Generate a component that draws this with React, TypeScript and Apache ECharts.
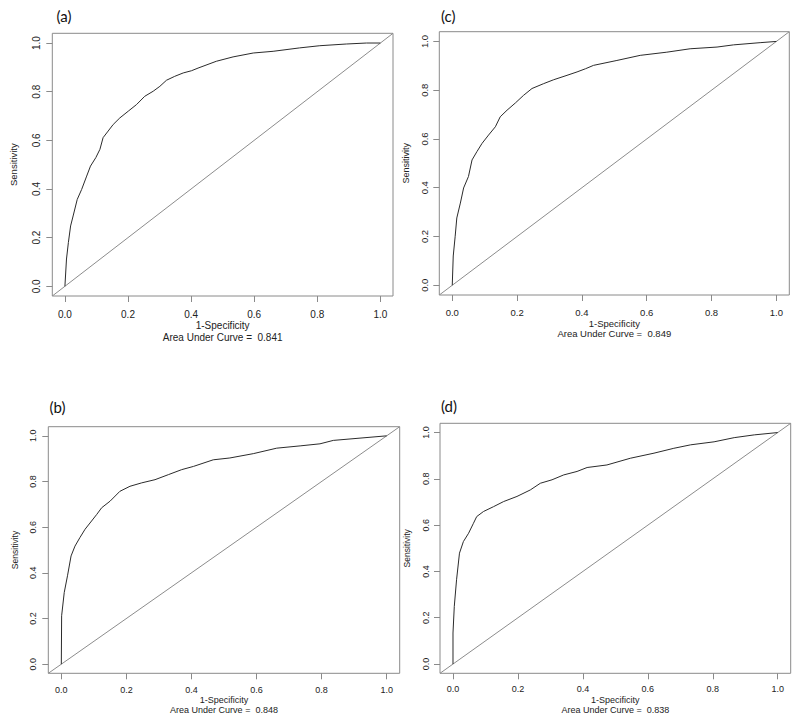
import React, { useEffect, useRef } from "react";
import * as echarts from "echarts";

// ---- data ----
const tickValues = [0, 0.2, 0.4, 0.6, 0.8, 1.0];
const axisMin = -0.04;
const axisMax = 1.04;

const panelLabels = ["(a)", "(c)", "(b)", "(d)"];
const aucValues = ["0.841", "0.849", "0.848", "0.838"];
const xAxisTitle = "1-Specificity";
const yAxisTitle = "Sensitivity";

// (a)
const fprA = [0, 0.005, 0.011, 0.018, 0.026, 0.039, 0.053, 0.069, 0.081, 0.098, 0.111, 0.121, 0.137, 0.153, 0.174, 0.201, 0.227, 0.253, 0.28, 0.301, 0.322, 0.348, 0.375, 0.401, 0.422, 0.48, 0.533, 0.597, 0.66, 0.744, 0.808, 0.892, 0.956, 1];
const tprA = [0, 0.112, 0.18, 0.248, 0.289, 0.357, 0.398, 0.453, 0.494, 0.529, 0.563, 0.611, 0.638, 0.665, 0.692, 0.72, 0.747, 0.781, 0.802, 0.822, 0.847, 0.863, 0.877, 0.886, 0.897, 0.925, 0.943, 0.959, 0.966, 0.98, 0.989, 0.996, 1.0, 1];
// (c)
const fprC = [0, 0.003, 0.009, 0.014, 0.025, 0.035, 0.05, 0.061, 0.076, 0.092, 0.112, 0.133, 0.148, 0.169, 0.195, 0.22, 0.246, 0.282, 0.313, 0.354, 0.385, 0.411, 0.436, 0.508, 0.58, 0.662, 0.734, 0.817, 0.868, 0.95, 1];
const tprC = [0, 0.12, 0.201, 0.276, 0.337, 0.399, 0.446, 0.514, 0.548, 0.582, 0.616, 0.65, 0.691, 0.718, 0.748, 0.779, 0.807, 0.827, 0.843, 0.861, 0.875, 0.888, 0.902, 0.922, 0.943, 0.956, 0.97, 0.977, 0.986, 0.995, 1];
// (b)
const fprB = [0, 0.001, 0.009, 0.019, 0.03, 0.042, 0.057, 0.073, 0.093, 0.109, 0.124, 0.15, 0.18, 0.211, 0.247, 0.288, 0.329, 0.37, 0.406, 0.467, 0.518, 0.59, 0.662, 0.734, 0.795, 0.836, 0.918, 1];
const tprB = [0, 0.212, 0.314, 0.387, 0.474, 0.517, 0.554, 0.591, 0.627, 0.656, 0.685, 0.714, 0.757, 0.779, 0.794, 0.808, 0.83, 0.852, 0.866, 0.895, 0.903, 0.922, 0.946, 0.956, 0.965, 0.98, 0.99, 1];
// (d)
const fprD = [0, 0.0, 0.004, 0.011, 0.02, 0.032, 0.048, 0.063, 0.073, 0.094, 0.125, 0.156, 0.197, 0.238, 0.269, 0.305, 0.341, 0.382, 0.413, 0.474, 0.546, 0.619, 0.68, 0.732, 0.804, 0.866, 0.928, 1];
const tprD = [0, 0.134, 0.249, 0.364, 0.479, 0.529, 0.565, 0.608, 0.637, 0.659, 0.68, 0.702, 0.724, 0.752, 0.781, 0.796, 0.817, 0.832, 0.849, 0.86, 0.889, 0.911, 0.932, 0.947, 0.96, 0.978, 0.99, 1];

const fprList = [fprA, fprC, fprB, fprD];
const tprList = [tprA, tprC, tprB, tprD];

// ---- layout (pixels) ----
const layouts = [
  { left: 52.3, top: 33.3, width: 340.7, height: 262.7, lx: 64, ly: 16, tick: 10, name: 10, ynGap: 34, ylMargin: 11, xlMargin: 13, xnGap: 23.5, xnLH: 11.5 },
  { left: 439.3, top: 31.7, width: 350, height: 263.3, lx: 448.3, ly: 15.5, tick: 9.5, name: 9.5, ynGap: 28.5, ylMargin: 10, xlMargin: 12.5, xnGap: 23, xnLH: 10 },
  { left: 48.3, top: 426.7, width: 351.4, height: 246.6, lx: 57.5, ly: 406.7, tick: 9, name: 9, ynGap: 29, ylMargin: 10.5, xlMargin: 12, xnGap: 22.3, xnLH: 9.7 },
  { left: 440, top: 423.3, width: 350.7, height: 250, lx: 449, ly: 405.5, tick: 9, name: 9, ynGap: 29, ylMargin: 10, xlMargin: 11.5, xnGap: 22.3, xnLH: 9.7 },
];

const FONT = "'Liberation Sans', Arial, sans-serif";
const TEXT_COLOR = "#222";
const FRAME_COLOR = "#8a8a8a";

export default function App() {
  const ref = useRef<HTMLDivElement>(null);

  useEffect(() => {
    if (!ref.current) return;
    const chart = echarts.init(ref.current, undefined, { renderer: "svg" });

    const grid = layouts.map((l) => ({
      left: l.left,
      top: l.top,
      width: l.width,
      height: l.height,
      show: true,
      borderColor: FRAME_COLOR,
      borderWidth: 1,
      backgroundColor: "transparent",
      containLabel: false,
    }));

    const xAxis = layouts.map((l, i) => ({
      type: "value",
      gridIndex: i,
      min: axisMin,
      max: axisMax,
      axisLine: { show: false, onZero: false },
      splitLine: { show: false },
      axisTick: { show: true, length: 6, customValues: tickValues, lineStyle: { color: FRAME_COLOR, width: 1 } },
      axisLabel: {
        customValues: tickValues,
        formatter: (v: number) => v.toFixed(1),
        fontFamily: FONT,
        fontSize: l.tick,
        color: TEXT_COLOR,
        margin: l.xlMargin,
      },
      name: `${xAxisTitle}\nArea Under Curve =  ${aucValues[i]}`,
      nameLocation: "middle",
      nameGap: l.xnGap,
      nameTextStyle: { fontFamily: FONT, fontSize: l.name, lineHeight: l.xnLH, color: TEXT_COLOR },
    }));

    const yAxis = layouts.map((l, i) => ({
      type: "value",
      gridIndex: i,
      min: axisMin,
      max: axisMax,
      axisLine: { show: false, onZero: false },
      splitLine: { show: false },
      axisTick: { show: true, length: 6, customValues: tickValues, lineStyle: { color: FRAME_COLOR, width: 1 } },
      axisLabel: {
        customValues: tickValues,
        formatter: (v: number) => v.toFixed(1),
        fontFamily: FONT,
        fontSize: l.tick,
        color: TEXT_COLOR,
        rotate: 90,
        margin: l.ylMargin,
      },
      name: yAxisTitle,
      nameLocation: "middle",
      nameGap: l.ynGap,
      nameTextStyle: { fontFamily: FONT, fontSize: l.name - 0.5, color: TEXT_COLOR },
    }));

    const series: any[] = [];
    layouts.forEach((_, i) => {
      series.push({
        type: "line",
        xAxisIndex: i,
        yAxisIndex: i,
        data: [
          [axisMin, axisMin],
          [axisMax, axisMax],
        ],
        symbol: "none",
        lineStyle: { color: "#8c8c8c", width: 1 },
        silent: true,
      });
      series.push({
        type: "line",
        xAxisIndex: i,
        yAxisIndex: i,
        data: fprList[i].map((x, k) => [x, tprList[i][k]]),
        symbol: "none",
        lineStyle: { color: "#2b2b2b", width: 1 },
        silent: true,
      });
    });

    const graphic = layouts.map((l, i) => ({
      type: "text",
      x: l.lx,
      y: l.ly,
      style: {
        text: panelLabels[i],
        fontFamily: "Lato, 'Open Sans', sans-serif",
        fontSize: 15,
        fill: "#111",
        textAlign: "center",
        textVerticalAlign: "middle",
      },
    }));

    chart.setOption({
      animation: false,
      backgroundColor: "#ffffff",
      grid,
      xAxis,
      yAxis,
      series,
      graphic,
    });

    return () => chart.dispose();
  }, []);

  return (
    <div
      ref={ref}
      style={{ position: "absolute", left: 0, top: 0, width: 800, height: 722 }}
    />
  );
}
